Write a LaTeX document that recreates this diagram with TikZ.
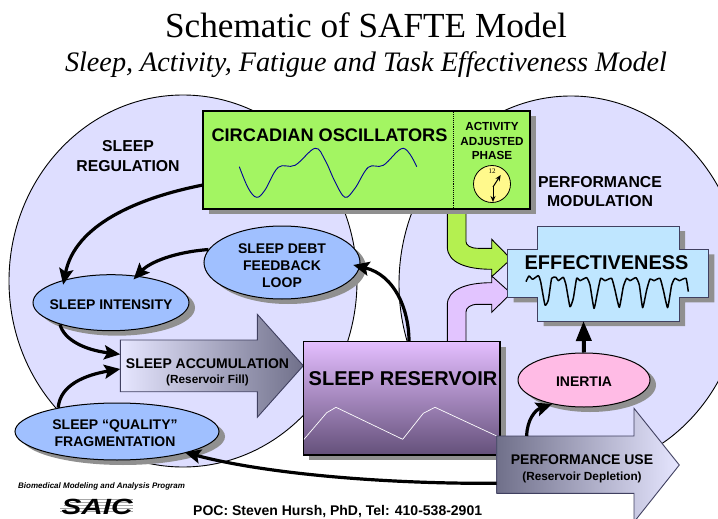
\documentclass[tikz,border=0pt]{standalone}
\usepackage{fontspec}
\setmainfont{Liberation Sans}
\newfontfamily\serifttl{Liberation Serif}
\usetikzlibrary{arrows.meta,calc,positioning,shapes.geometric,shadows}
\definecolor{lobefill}{HTML}{DEDEFF}
\definecolor{ovalblue}{HTML}{A0C0FF}
\definecolor{ovalpink}{HTML}{FFBBE5}
\definecolor{circgreen}{HTML}{A3F562}
\definecolor{feedgreen}{HTML}{B4F050}
\definecolor{effblue}{HTML}{BFE6FF}
\definecolor{resvtop}{HTML}{E4BEFF}
\definecolor{resvbot}{HTML}{64507A}
\definecolor{feedpurple}{HTML}{E2C4FF}
\definecolor{arrdark}{HTML}{70708A}
\definecolor{arrlite}{HTML}{E6E6FF}
\definecolor{arrline}{HTML}{404060}
\definecolor{shadowgray}{HTML}{909090}
\newcommand{\fsz}[1]{\bfseries\fontsize{#1}{#1}\selectfont}
\tikzstyle{every node}=[inner sep=0pt]
\tikzstyle{softshadow}=[drop shadow={shadow xshift=6pt,shadow yshift=-5pt,fill=shadowgray,opacity=1}]
\tikzstyle{lobe}=[ellipse,draw=black,line width=0.9pt,fill=lobefill]
\tikzstyle{oval}=[ellipse,draw=black,line width=1pt,softshadow]
\tikzstyle{ovaltext}=[align=center,font=\bfseries\fontsize{14}{17}\selectfont]
\tikzstyle{boxed}=[rectangle,draw=black,line width=1.4pt,softshadow]
\tikzstyle{bigarrow}=[draw=arrline,line width=0.9pt,line join=miter]
\tikzstyle{thickarr}=[line width=3.2pt,-{Stealth[length=16pt,width=14pt,inset=3pt]}]
\tikzstyle{feed}=[draw=black,line width=0.9pt,line join=miter]

\begin{document}
\begin{tikzpicture}[x=1pt,y=-1pt]
  \useasboundingbox (0,0) rectangle (718,519);
  \clip (0,0) rectangle (718,519);

  % titles
  \node[anchor=base,font=\serifttl\fontsize{35.2}{35.2}\selectfont] (title) at (366,38)
  {Schematic of SAFTE Model};
  \node[anchor=base,font=\serifttl\itshape\fontsize{28.2}{28.2}\selectfont] (subtitle) at (366,72)
  {Sleep, Activity, Fatigue and Task Effectiveness Model};

  % the two lobes
  \node[lobe,minimum width=348pt,minimum height=372pt] (reglobe) at (183,281) {};
  \node[lobe,minimum width=344pt,minimum height=376pt] (modlobe) at (571,284) {};

  \node[align=center,font=\fsz{15.8}] (reglabel) at (128,156)
  {SLEEP\\[3.5pt]REGULATION};
  \node[align=center,font=\fsz{15.8}] (modlabel) at (600,191.5)
  {PERFORMANCE\\[3.5pt]MODULATION};

  % feeds into effectiveness
  \draw[feed,fill=feedgreen] (447.3,205) -- (447.3,246.7)
  .. controls (447.3,262) and (465,269.3) .. (491.7,269.3)
  -- (491.7,276.7) -- (511,259) -- (491.7,239.3) -- (491.7,248.3)
  -- (478,248.3) .. controls (470,248.3) and (466,245) .. (466,241.7)
  -- (466,205) -- cycle;
  \draw[feed,fill=feedpurple] (447.3,345) -- (447.3,305)
  .. controls (447.3,290) and (465,282.7) .. (491.7,282.7)
  -- (491.7,276) -- (511,293.3) -- (491.7,312.3) -- (491.7,304.3)
  -- (478,304.3) .. controls (470,304.3) and (466,308) .. (466,312)
  -- (466,345) -- cycle;

  % oscillator box
  \node[boxed,fill=circgreen,minimum width=327pt,minimum height=98pt] (circ) at (366.5,160) {};
  \draw[densely dotted,line width=0.9pt] ([xshift=86.5pt]circ.north) -- ([xshift=86.5pt]circ.south);
  \node[anchor=base,font=\fsz{18.2}] (circlabel) at (329.5,141) {CIRCADIAN OSCILLATORS};
  \node[anchor=base,font=\fsz{11.7}] (phasea) at (492,131) {ACTIVITY};
  \node[anchor=base,font=\fsz{11.7}] (phaseb) at (492,145) {ADJUSTED};
  \node[anchor=base,font=\fsz{11.7}] (phasec) at (492,159) {PHASE};
  \draw[color=blue!60!black,line width=0.9pt] plot[smooth,tension=0.6] coordinates
  {(239.3,166.7) (248.3,188.3) (256.7,197.3) (265,190) (278.3,167.3) (295,165.3)
    (315,148.3) (325,160) (335,181.7) (345,197.3) (355,188.3) (368.3,167.3)
    (383.3,165.3) (403.3,148.3) (416.7,166.7)};

  % clock
  \node[circle,draw=black,line width=0.8pt,fill=yellow!45,minimum size=37pt] (clock) at (492,184) {};
  \node[font=\serifttl\fontsize{7}{7}\selectfont] (clocknum) at (492,171) {12};
  \coordinate (clockhub) at (493,187);
  \draw[line width=1pt,-{Stealth[length=6pt,width=5pt]}] (clockhub) -- (500.7,175);
  \draw[line width=1pt,-{Stealth[length=6pt,width=5pt]}] (clockhub) -- (493,202);

  % effectiveness
  \draw[draw=arrline,line width=1pt,fill=effblue,softshadow,line join=miter]
  (537.7,226) -- (679,226) -- (679,249.3) -- (708.3,249.3) -- (708.3,297.3) -- (679,297.3)
  -- (679,321) -- (537.7,321) -- (537.7,297.3) -- (507.7,297.3) -- (507.7,249.3) -- (537.7,249.3) -- cycle;
  \coordinate (effbot) at (583.5,321);
  \node[anchor=base,font=\fsz{19.9}] (efflabel) at (606.5,269.3) {EFFECTIVENESS};
  \begin{scope}[shift={(430,210)},x=0.3333pt,y=-0.3333pt]
    \draw[line width=1.5pt,line join=round] plot[smooth,tension=0.3] coordinates
    {(288,215) (297,198) (308,208) (325,197) (332,215) (345,285) (355,270) (365,205)
      (378,202) (385,212) (400,202) (408,225) (420,290) (430,265) (440,205) (450,212)
      (470,203) (480,225) (492,295) (502,250) (512,205) (525,212) (545,205) (555,240)
      (568,292) (580,230) (590,205) (600,212) (618,203) (628,225) (638,293) (650,240)
      (660,207) (672,212) (690,205) (700,240) (713,293) (725,225) (735,205) (748,212)
      (768,205) (775,245)};
  \end{scope}

  % ovals
  \node[oval,fill=ovalblue,minimum width=156pt,minimum height=56pt] (intensity) at (111,302.7) {};
  \node[ovaltext] (intensitytext) at ([yshift=-2pt]intensity.center) {SLEEP INTENSITY};
  \node[oval,fill=ovalblue,minimum width=156pt,minimum height=73pt] (debt) at (282,262.5) {};
  \node[ovaltext] (debttext) at ([yshift=-3.5pt]debt.center) {SLEEP DEBT\\FEEDBACK\\LOOP};
  \node[oval,fill=ovalblue,minimum width=204pt,minimum height=57pt] (quality) at (117,431.5) {};
  \node[ovaltext] (qualitytext) at ([xshift=-2pt,yshift=-2pt]quality.center) {SLEEP “QUALITY”\\FRAGMENTATION};
  \node[oval,fill=ovalpink,minimum width=132pt,minimum height=54pt] (inertia) at (584,380) {};
  \node[ovaltext] (inertiatext) at ([yshift=-2pt]inertia.center) {INERTIA};

  % accumulation arrow
  \coordinate (accumup) at (120.3,354.3);
  \coordinate (accumlow) at (120.3,369);
  \draw[bigarrow,left color=arrlite,right color=arrdark]
  (120.3,340) -- (257.3,340) -- (257.3,314.3) -- (303.3,365.7) -- (257.3,417.3) -- (257.3,391.7) -- (120.3,391.7) -- cycle;
  \node[anchor=base,font=\fsz{14}] (accumlabel) at (207.5,368) {SLEEP ACCUMULATION};
  \node[anchor=base,font=\fsz{11.8}] (accumsub) at (207.5,383) {(Reservoir Fill)};

  % reservoir
  \node[boxed,top color=resvtop,bottom color=resvbot,minimum width=196.7pt,minimum height=113.3pt] (resv) at (401.7,398.3) {};
  \node[anchor=base,font=\fsz{20}] (resvlabel) at (403,385) {SLEEP RESERVOIR};
  \draw[color=white,line width=0.7pt] (304,439.3) -- (326.7,412.7) -- (336,407.3) -- (402.7,439.3)
  -- (423.3,413.3) -- (435,407.3) -- (496.7,436);

  % performance arrow
  \coordinate (perfup) at (526.7,436);
  \coordinate (perfback) at (496.7,483.3);
  \draw[bigarrow,left color=arrdark,right color=arrlite]
  (496.7,436) -- (634,436) -- (634,408.3) -- (679.3,465) -- (634,522) -- (634,493.3) -- (496.7,493.3) -- cycle;
  \node[anchor=base,font=\fsz{14}] (perflabel) at (582,464) {PERFORMANCE USE};
  \node[anchor=base,font=\fsz{11.8}] (perfsub) at (582,480) {(Reservoir Depletion)};

  % connectors
  \coordinate (circout) at (203,185);
  \draw[thickarr,shorten >=-5pt] (circout) .. controls (137,198) and (75,225) .. (intensity.154);
  \draw[thickarr,shorten >=-5pt] (debt.170) .. controls (175,252) and (150,262) .. (intensity.46);
  \draw[thickarr] (intensity.203) .. controls (64,340) and (85,350) .. (accumup);
  \draw[thickarr] (quality.158) .. controls (60,385) and (85,375) .. (accumlow);
  \draw[thickarr,shorten >=-7pt] ([xshift=7.3pt]resv.north) .. controls (409,310) and (395,275) .. (debt.357);
  \draw[line width=4pt,-{Stealth[length=20pt,width=15pt,inset=0pt]}] (inertia.north) -- (effbot);
  \draw[thickarr] (perfup) .. controls (527,420) and (535,410) .. (inertia.217);
  \draw[thickarr,shorten >=-2pt] (perfback) .. controls (380,484) and (262,473) .. (quality.-17);

  % footer
  \node[anchor=base west,font=\bfseries\itshape\fontsize{8}{8}\selectfont] (program) at (18,488)
  {Biomedical Modeling and Analysis Program};
  \foreach \yy/\xx in {499/78,502/70,505/64,508/60,511/60}
  \draw[color=gray!70,line width=0.8pt] (\xx,\yy) -- (133,\yy);
  \node[font=\bfseries\itshape\fontsize{22}{22}\selectfont,xscale=1.35,text height=16pt,text depth=0pt] (saic) at (97,506) {SAIC};
  \node[anchor=base west,font=\fsz{14}] (poc) at (193,515) {POC: Steven Hursh, PhD, Tel: 410-538-2901};
\end{tikzpicture}
\end{document}
